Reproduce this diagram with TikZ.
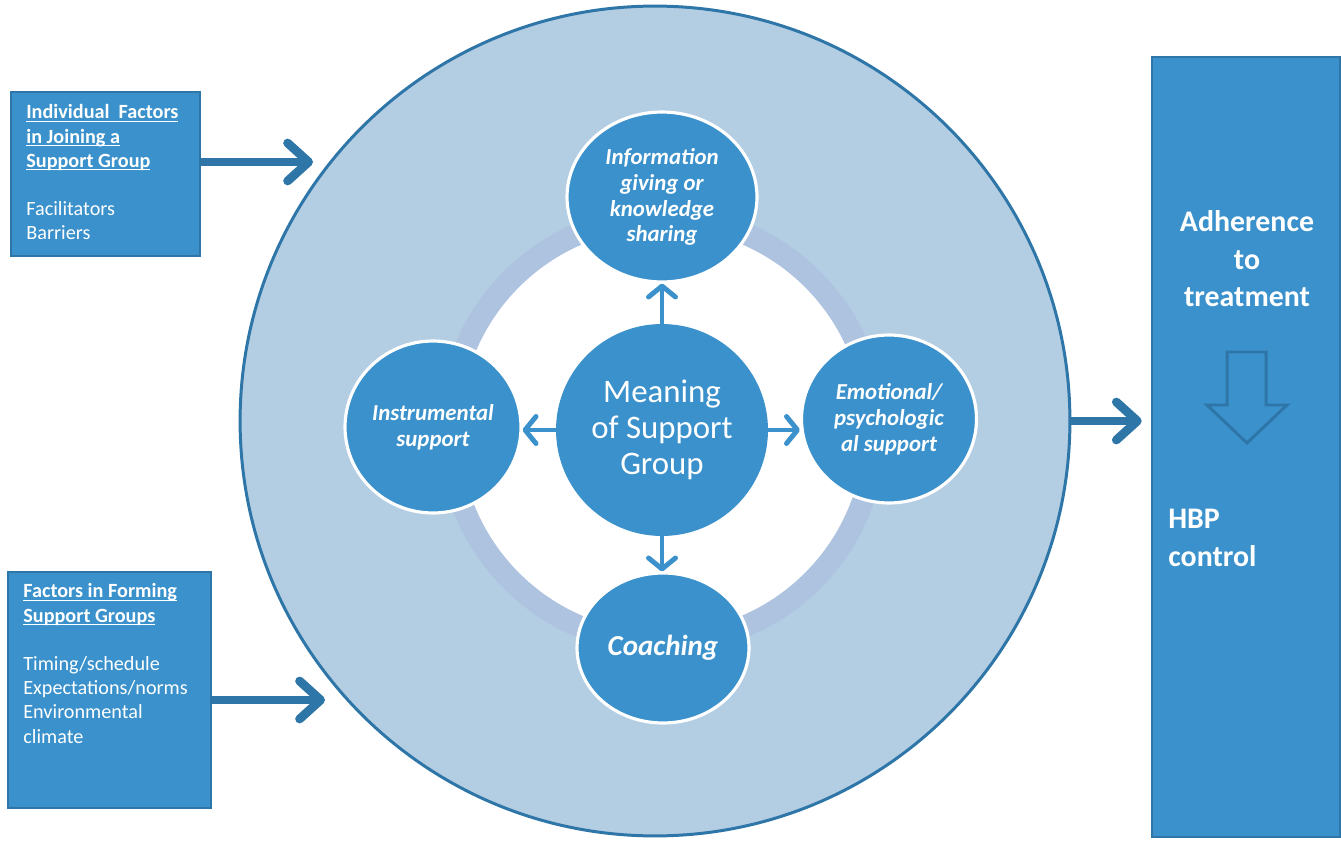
\documentclass[tikz,border=0pt]{standalone}
\usepackage{fontspec}
\setmainfont{Carlito}
\usetikzlibrary{arrows.meta,shapes.geometric,positioning}
\definecolor{topicblue}{HTML}{3A91CB}
\definecolor{rimblue}{HTML}{2E75A8}
\definecolor{groupblue}{HTML}{B3CDE3}
\definecolor{ringblue}{HTML}{AEC3E0}
\newcommand{\headline}[1]{\underline{\smash{\textbf{#1}}\vrule height 8.2pt depth 0pt width 0pt}}
\tikzset{%
  model/.style = {
    x=0.02cm, y=-0.02cm,
    factor/.style = {rectangle, draw=rimblue, line width=1.5pt, fill=topicblue},
    factortext/.style = {anchor=north west, align=left, text=white, inner sep=0pt,
      font=\fontsize{11.5}{13.8}\selectfont},
    topic/.style = {ellipse, draw=white, line width=1.8pt, fill=topicblue,
      text=white, align=center, inner sep=0pt,
      font=\bfseries\itshape\fontsize{13}{14.7}\selectfont},
    feed/.style = {draw=rimblue, line width=5pt,
      -{Straight Barb[length=0.42cm, width=0.76cm, round]}},
    link/.style = {draw=topicblue, line width=2.8pt,
      -{Straight Barb[length=0.22cm, width=0.54cm, round]}}
  }
}

\begin{document}
\begin{tikzpicture}[model]
  \useasboundingbox (0,0) rectangle (1341,841);

  \node[circle, draw=rimblue, line width=1.7pt, fill=groupblue, inner sep=0pt,
    minimum size=16.6cm] (group) at (655,421) {};
  \fill[ringblue] (662,430) circle[radius=4.48cm];
  \fill[white] (662,430) circle[radius=4.04cm];

  \node[circle, fill=topicblue, text=white, align=center, inner sep=0pt,
    minimum size=4.24cm, font=\fontsize{18.7}{20.4}\selectfont] (hub) at (662,430)
    {Meaning\\of Support\\Group};
  \node[topic, minimum width=3.8cm, minimum height=3.4cm] (info) at (662,197)
    {Information\\giving or\\knowledge\\sharing};
  \node[topic, minimum width=3.52cm, minimum height=3.44cm] (instr) at (433,427)
    {Instrumental\\support};
  \node[topic, minimum width=3.5cm, minimum height=3.36cm] (emot) at (889,419)
    {Emotional/\\psychologic\\al support};
  \node[topic, minimum width=3.44cm, minimum height=3.0cm,
    font=\bfseries\itshape\fontsize{16.5}{18}\selectfont] (coach) at (663,648) {Coaching};

  \draw[link] ([yshift=-0.54cm]hub.north) -- (hub.north |- info.south);
  \draw[link] ([xshift=0.4cm]hub.west) -- (hub.west -| instr.east);
  \draw[link] ([xshift=-0.4cm]hub.east) -- (hub.east -| emot.west);
  \draw[link] ([yshift=0.54cm]hub.south) -- (hub.south |- coach.north);

  \node[factor, minimum width=3.78cm, minimum height=3.28cm] (join) at (105.5,174) {};
  \node[factortext] (jointext) at (26,104)
    {\headline{Individual\ \ Factors}\\ \headline{in Joining a}\\
     \headline{Support Group}\\[13.8pt] Facilitators\\ Barriers};
  \node[factor, minimum width=4.06cm, minimum height=4.72cm] (form) at (109.5,690) {};
  \node[factortext] (formtext) at (23,583)
    {\headline{Factors in Forming}\\ \headline{Support Groups}\\[13.8pt]
     Timing/schedule\\ Expectations/norms\\ Environmental\\ climate};

  \node[factor, minimum width=3.76cm, minimum height=15.6cm] (outcome) at (1246,447) {};
  \node[text=white, align=center, font=\bfseries\fontsize{17}{21.3}\selectfont]
    (adhere) at (1247,259) {Adherence\\to\\treatment};
  \node[text=white, align=left, anchor=west, inner sep=0pt,
    font=\bfseries\fontsize{17}{21.3}\selectfont] (hbp) at (1168,538) {HBP\\control};
  \draw[rimblue, line width=1.7pt] (1227,352) -- (1266,352) -- (1266,405) -- (1287,405)
    -- (1247,443) -- (1207,405) -- (1227,405) -- cycle;

  \coordinate (joinin) at (313,162);
  \coordinate (formin) at (325,700);
  \draw[feed] (join.east |- joinin) -- (joinin);
  \draw[feed] (form.east |- formin) -- (formin);
  \draw[feed, shorten >=0.18cm] (group.east) -- (group.east -| outcome.west);
\end{tikzpicture}
\end{document}
